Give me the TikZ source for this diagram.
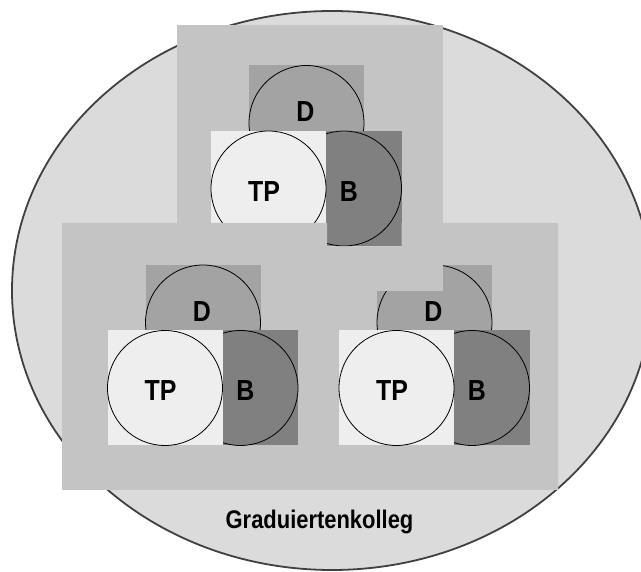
\documentclass[tikz,border=0pt]{standalone}
\usepackage{fontspec}
\setmainfont{Liberation Sans}[FakeStretch=0.86]
\usetikzlibrary{calc}

\definecolor{kollegfill}{HTML}{DBDBDB}
\definecolor{kollegline}{HTML}{404040}
\definecolor{groupfill}{HTML}{C4C4C4}
\definecolor{dfill}{HTML}{A3A3A3}
\definecolor{bfill}{HTML}{808080}
\definecolor{tpfill}{HTML}{EEEEEE}

% one group of D, B and TP; #1 name, #2 #3 centre of TP
\newcommand{\tpgroup}[3]{
  \node[sq,fill=dfill] (#1-dsq) at (#2+38,#3-65.5) {};
  \node[ring] (#1-d) at (#1-dsq) {};
  \node[sq,fill=bfill] (#1-bsq) at (#2+75.5,#3) {};
  \node[ring] (#1-b) at (#1-bsq) {};
  \node[sq,fill=tpfill] (#1-tpsq) at (#2,#3) {};
  \node[ring] (#1-tp) at (#1-tpsq) {};
  \node[lbl] (#1-dl) at ($(#1-d)+(-1,-11)$) {D};
  \node[lbl] (#1-bl) at ($(#1-b)+(5,3)$) {B};
  \node[lbl] (#1-tpl) at ($(#1-tp)+(-4.5,3)$) {TP};
}

\begin{document}
\begin{tikzpicture}[x=1pt,y=-1pt,
    sq/.style={rectangle,minimum size=115pt,inner sep=0pt,draw=none},
    ring/.style={circle,minimum size=115pt,inner sep=0pt,draw=black,line width=0.8pt},
    lbl/.style={inner sep=0pt,font=\bfseries\fontsize{29}{30}\selectfont},
    title/.style={inner sep=0pt,anchor=base,font=\bfseries\fontsize{25.5}{28}\selectfont}]
  \useasboundingbox (0,0) rectangle (641,572);

  % Graduiertenkolleg
  \draw[fill=kollegfill,draw=kollegline,line width=1.8pt]
    (332,290.5) ellipse [x radius=320,y radius=279.5];

  % upper block
  \fill[groupfill] (177,25) rectangle (443,223);
  \tpgroup{top}{268.5}{188.5}

  % lower block
  \fill[groupfill] (62,223) -- (327,223) -- (327,246.5) -- (401.5,246.5)
    -- (401.5,223) -- (558,223) -- (558,490) -- (62,490) -- cycle;
  \tpgroup{left}{165}{388}
  \tpgroup{right}{396.5}{388}
  \fill[groupfill] (370,255) rectangle (443,291);

  \node[title] (kolleg) at (319.5,528.3) {Graduiertenkolleg};
\end{tikzpicture}
\end{document}
